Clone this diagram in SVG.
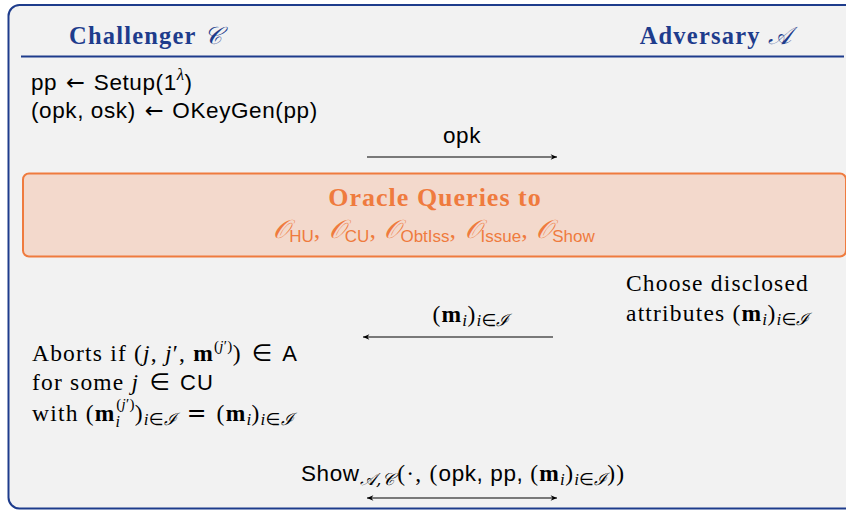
<svg xmlns="http://www.w3.org/2000/svg" width="846" height="511" viewBox="0 0 846 511">
<defs>
<style>
.hdr{font-family:"Liberation Serif",serif;font-weight:bold;font-size:24.5px;letter-spacing:1.2px;fill:#1e3c8c}
.scr{font-family:"DejaVu Serif","Liberation Serif",serif;font-style:italic;font-weight:normal;letter-spacing:0}
.sans{font-family:"Liberation Sans",sans-serif;font-size:22.5px;letter-spacing:0.6px;fill:#000}
.ser{font-family:"Liberation Serif",serif;font-size:23.5px;letter-spacing:1.2px;fill:#000}
.sym{font-family:"DejaVu Sans",sans-serif;font-style:normal;font-weight:normal;letter-spacing:0}
.it{font-style:italic}
.b{font-weight:bold}
.sm{font-size:17px;letter-spacing:0.4px}
.si{font-size:16px}
.sup{font-size:15px;letter-spacing:0.3px}
.ss{font-family:"Liberation Sans",sans-serif;font-size:22px}
.orc{font-family:"Liberation Serif",serif;font-size:26px;letter-spacing:1px;fill:#ef7b3e}
.osub{font-family:"Liberation Sans",sans-serif;font-size:17px;letter-spacing:0}
.conn{stroke:#000;stroke-width:1.2;fill:none}
</style>
<marker id="ah" viewBox="0 0 10 10" refX="9" refY="5" markerWidth="8" markerHeight="8" orient="auto-start-reverse" markerUnits="userSpaceOnUse">
<path d="M1,1.5 L9,5 L1,8.5 L3.5,5 Z" fill="#000"/>
</marker>
</defs>
<rect x="0" y="0" width="846" height="511" fill="#ffffff"/>
<g id="frame">
<rect x="8.5" y="5" width="850" height="503.5" rx="11" fill="#f2f2f2" stroke="#1e3c8c" stroke-width="2"/>
<line x1="21" y1="56.5" x2="844" y2="56.5" stroke="#1e3c8c" stroke-width="2"/>
</g>
<g id="challenger">
<text class="hdr" x="69" y="44">Challenger <tspan class="scr">𝒞</tspan></text>
</g>
<g id="adversary">
<text class="hdr" x="791" y="44" text-anchor="end">Adversary <tspan class="scr">𝒜</tspan></text>
</g>
<g id="setup">
<text class="sans" x="31" y="90">pp <tspan class="sym" dx="2">←</tspan><tspan dx="2"> Setup(1</tspan><tspan class="ser it sm" dy="-10">λ</tspan><tspan dy="10">)</tspan></text>
<text class="sans" x="31" y="118">(opk, osk) <tspan class="sym" dx="2">←</tspan><tspan dx="2"> OKeyGen(pp)</tspan></text>
</g>
<g id="oracle">
<rect x="23" y="173.5" width="823" height="83" rx="6" fill="#f3d9cc" stroke="#ef7b3e" stroke-width="2"/>
<text class="orc b" x="435" y="206" text-anchor="middle">Oracle Queries to</text>
<text class="orc" x="434" y="238" text-anchor="middle"><tspan class="scr">𝒪</tspan><tspan class="osub" dy="4">HU</tspan><tspan dy="-4">, </tspan><tspan class="scr">𝒪</tspan><tspan class="osub" dy="4">CU</tspan><tspan dy="-4">, </tspan><tspan class="scr">𝒪</tspan><tspan class="osub" dy="4">ObtIss</tspan><tspan dy="-4">, </tspan><tspan class="scr">𝒪</tspan><tspan class="osub" dy="4">Issue</tspan><tspan dy="-4">, </tspan><tspan class="scr">𝒪</tspan><tspan class="osub" dy="4">Show</tspan></text>
</g>
<g id="choose">
<text class="ser" x="626" y="291">Choose disclosed</text>
<text class="ser" x="626" y="321">attributes (<tspan class="b">m</tspan><tspan class="it sm" dy="4">i</tspan><tspan dy="-4">)</tspan><tspan class="it sm" dy="4">i<tspan class="sym">∈</tspan><tspan class="scr">ℐ</tspan></tspan></text>
</g>
<g id="aborts">
<text class="ser" x="32" y="361">Aborts if (<tspan class="it">j</tspan>, <tspan class="it">j</tspan>′, <tspan class="b">m</tspan><tspan class="sup" dy="-10">(<tspan class="it">j</tspan>′)</tspan><tspan dy="10">) </tspan><tspan class="sym" dx="3">∈</tspan><tspan dx="3"> </tspan><tspan class="ss">A</tspan></text>
<text class="ser" x="32" y="390">for some <tspan class="it">j</tspan> <tspan class="sym" dx="3">∈</tspan><tspan dx="3"> </tspan><tspan class="ss">CU</tspan></text>
<text class="ser" x="32" y="421">with (<tspan class="b">m</tspan><tspan class="it si" dy="6">i</tspan><tspan class="sup" dx="-5" dy="-18">(<tspan class="it">j</tspan>′)</tspan><tspan dy="12">)</tspan><tspan class="it sm" dy="4">i<tspan class="sym">∈</tspan><tspan class="scr">ℐ</tspan></tspan><tspan dy="-4"> </tspan><tspan class="sym" dx="3">=</tspan><tspan dx="3"> (</tspan><tspan class="b">m</tspan><tspan class="it sm" dy="4">i</tspan><tspan dy="-4">)</tspan><tspan class="it sm" dy="4">i<tspan class="sym">∈</tspan><tspan class="scr">ℐ</tspan></tspan></text>
</g>
<g id="show">
<text class="sans" x="301" y="481">Show<tspan class="scr sm" dy="4">𝒜,𝒞</tspan><tspan class="ser" dx="3" dy="-4">(·, (</tspan>opk, pp, <tspan class="ser">(<tspan class="b">m</tspan><tspan class="it sm" dy="4">i</tspan><tspan dy="-4">)</tspan><tspan class="it sm" dy="4">i<tspan class="sym">∈</tspan><tspan class="scr">ℐ</tspan></tspan><tspan dy="-4">))</tspan></tspan></text>
</g>
<g id="connectors">
<text class="sans" x="462" y="143" text-anchor="middle">opk</text>
<line class="conn" x1="367" y1="157" x2="557" y2="157" marker-end="url(#ah)"/>
<text class="ser" x="471" y="322" text-anchor="middle">(<tspan class="b">m</tspan><tspan class="it sm" dy="4">i</tspan><tspan dy="-4">)</tspan><tspan class="it sm" dy="4">i<tspan class="sym">∈</tspan><tspan class="scr">ℐ</tspan></tspan></text>
<line class="conn" x1="553" y1="337" x2="363" y2="337" marker-end="url(#ah)"/>
<line class="conn" x1="367" y1="498" x2="557" y2="498" marker-start="url(#ah)" marker-end="url(#ah)"/>
</g>
</svg>
